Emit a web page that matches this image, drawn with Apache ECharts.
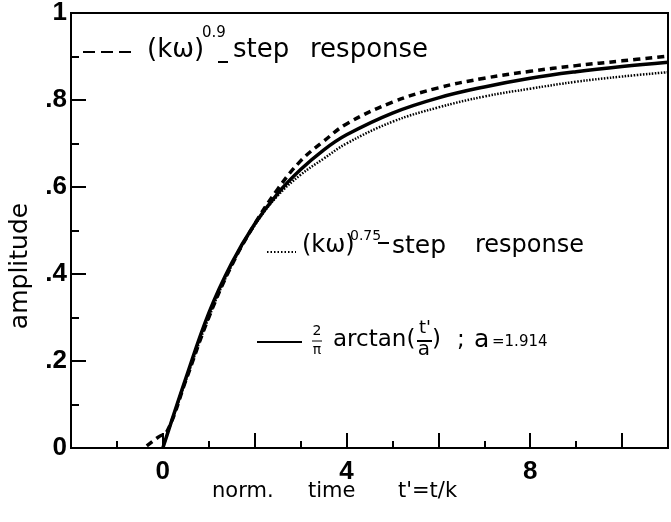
<!DOCTYPE html>
<html>
<head>
<meta charset="utf-8">
<script src="https://cdn.jsdelivr.net/npm/echarts@6/dist/echarts.min.js"></script>
<style>
  html, body { margin: 0; padding: 0; background: #fff; }
  #main { width: 671px; height: 522px; }
</style>
</head>
<body>
<div id="main"></div>
<script>
// values
var tSolid = [0, 0.5, 1, 1.5, 2, 2.5, 3, 3.5, 4, 5, 6, 7, 8, 9, 10, 11];
var ySolid = [0, 0.16, 0.31, 0.425, 0.515, 0.585, 0.64, 0.685, 0.72, 0.77, 0.805, 0.83, 0.85, 0.865, 0.877, 0.887];

var tDashed = [-0.35, -0.1, 0.1, 0.5, 1, 1.5, 2, 2.5, 3, 3.5, 4, 5, 6, 7, 8, 9, 10, 11];
var yDashed = [0.005, 0.025, 0.04, 0.155, 0.3, 0.42, 0.515, 0.595, 0.66, 0.705, 0.745, 0.795, 0.828, 0.85, 0.866, 0.879, 0.89, 0.901];

var tDotted = [0, 0.5, 1, 1.5, 2, 2.5, 3, 3.5, 4, 5, 6, 7, 8, 9, 10, 11];
var yDotted = [0, 0.155, 0.3, 0.42, 0.512, 0.58, 0.628, 0.665, 0.7, 0.75, 0.783, 0.808, 0.826, 0.842, 0.854, 0.864];

var xLabels = [0, 4, 8];

function pairs(xs, ys) {
  return xs.map(function (x, i) { return [x, ys[i]]; });
}

var myChart = echarts.init(document.getElementById("main"));
var txtFont = "DejaVu Sans";
var option = {
  backgroundColor: "#fff",
  animation: false,
  grid: {
    left: 71,
    top: 13,
    right: 2,
    bottom: 74,
    show: true,
    borderColor: "#000",
    borderWidth: 2,
  },
  xAxis: {
    type: "value",
    min: -2,
    max: 11,
    interval: 2,
    splitLine: { show: false },
    axisLine: { onZero: false, lineStyle: { color: "#000", width: 2 } },
    axisTick: { inside: true, length: 15, lineStyle: { color: "#000", width: 2 } },
    minorTick: { show: true, splitNumber: 2, length: 7, lineStyle: { color: "#000", width: 2 } },
    axisLabel: {
      margin: 11,
      color: "#000",
      fontFamily: "Liberation Sans",
      fontWeight: "bold",
      fontSize: 26,
      formatter: function (v) {
        return xLabels.indexOf(v) >= 0 ? String(v) : "";
      },
    },
  },
  yAxis: {
    type: "value",
    min: 0,
    max: 1,
    interval: 0.2,
    splitLine: { show: false },
    axisLine: { onZero: false, lineStyle: { color: "#000", width: 2 } },
    axisTick: { inside: true, length: 15, lineStyle: { color: "#000", width: 2 } },
    minorTick: { show: true, splitNumber: 2, length: 8, lineStyle: { color: "#000", width: 2 } },
    axisLabel: {
      margin: 4,
      color: "#000",
      fontFamily: "Liberation Sans",
      fontWeight: "bold",
      fontSize: 26,
      formatter: function (v) {
        if (v === 0) return "0";
        if (v === 1) return "1";
        return v.toFixed(1).replace("0.", ".");
      },
    },
  },
  series: [
    {
      name: "dashed",
      type: "line",
      data: pairs(tDashed, yDashed),
      showSymbol: false,
      smooth: 0.4,
      lineStyle: { color: "#000", width: 3.5, type: [7, 5] },
    },
    {
      name: "dotted",
      type: "line",
      data: pairs(tDotted, yDotted),
      showSymbol: false,
      smooth: 0.4,
      lineStyle: { color: "#000", width: 2.5, type: [1.5, 1.5] },
    },
    {
      name: "solid",
      type: "line",
      data: pairs(tSolid, ySolid),
      showSymbol: false,
      smooth: 0.4,
      lineStyle: { color: "#000", width: 3.5 },
    },
  ],
  graphic: [
    // axis names
    { type: "text", x: 20, y: 266, rotation: Math.PI / 2,
      style: { text: "amplitude", font: "25px DejaVu Sans", fill: "#000", align: "center", verticalAlign: "middle" } },
    { type: "text", x: 212, y: 492, style: { text: "norm.", font: "21px " + txtFont, fill: "#000", verticalAlign: "middle" } },
    { type: "text", x: 308, y: 492, style: { text: "time", font: "21px " + txtFont, fill: "#000", verticalAlign: "middle" } },
    { type: "text", x: 398, y: 492, style: { text: "t'=t/k", font: "21px " + txtFont, fill: "#000", verticalAlign: "middle" } },

    // legend 1 : dashed
    { type: "line", shape: { x1: 83, y1: 52, x2: 137, y2: 52 }, style: { stroke: "#000", lineWidth: 2, lineDash: [12, 6] } },
    { type: "text", x: 147, y: 50, style: { text: "(kω)", font: "26px " + txtFont, fill: "#000", verticalAlign: "middle" } },
    { type: "text", x: 202, y: 33, style: { text: "0.9", font: "15px " + txtFont, fill: "#000", verticalAlign: "middle" } },
    { type: "line", shape: { x1: 218, y1: 62, x2: 228, y2: 62 }, style: { stroke: "#000", lineWidth: 2 } },
    { type: "text", x: 233, y: 50, style: { text: "step", font: "26px " + txtFont, fill: "#000", verticalAlign: "middle" } },
    { type: "text", x: 310, y: 50, style: { text: "response", font: "26px " + txtFont, fill: "#000", verticalAlign: "middle" } },

    // legend 2 : dotted
    { type: "line", shape: { x1: 267, y1: 252, x2: 296, y2: 252 }, style: { stroke: "#000", lineWidth: 2, lineDash: [1.5, 2] } },
    { type: "text", x: 302, y: 246, style: { text: "(kω)", font: "24px " + txtFont, fill: "#000", verticalAlign: "middle" } },
    { type: "text", x: 350, y: 236, style: { text: "0.75", font: "14px " + txtFont, fill: "#000", verticalAlign: "middle" } },
    { type: "line", shape: { x1: 378, y1: 243, x2: 389, y2: 243 }, style: { stroke: "#000", lineWidth: 2 } },
    { type: "text", x: 392, y: 246, style: { text: "step", font: "25px " + txtFont, fill: "#000", verticalAlign: "middle" } },
    { type: "text", x: 475, y: 246, style: { text: "response", font: "24px " + txtFont, fill: "#000", verticalAlign: "middle" } },

    // legend 3 : solid
    { type: "line", shape: { x1: 257, y1: 342, x2: 302, y2: 342 }, style: { stroke: "#000", lineWidth: 2 } },
    { type: "text", x: 317, y: 331, style: { text: "2", font: "14px " + txtFont, fill: "#000", align: "center", verticalAlign: "middle" } },
    { type: "line", shape: { x1: 312, y1: 341, x2: 322, y2: 341 }, style: { stroke: "#000", lineWidth: 1 } },
    { type: "text", x: 317, y: 350, style: { text: "π", font: "14px " + txtFont, fill: "#000", align: "center", verticalAlign: "middle" } },
    { type: "text", x: 333, y: 340, style: { text: "arctan(", font: "23px " + txtFont, fill: "#000", verticalAlign: "middle" } },
    { type: "text", x: 425, y: 328, style: { text: "t'", font: "18px " + txtFont, fill: "#000", align: "center", verticalAlign: "middle" } },
    { type: "line", shape: { x1: 417, y1: 341, x2: 432, y2: 341 }, style: { stroke: "#000", lineWidth: 2 } },
    { type: "text", x: 424, y: 350, style: { text: "a", font: "20px " + txtFont, fill: "#000", align: "center", verticalAlign: "middle" } },
    { type: "text", x: 432, y: 340, style: { text: ")", font: "23px " + txtFont, fill: "#000", verticalAlign: "middle" } },
    { type: "text", x: 457, y: 340, style: { text: ";", font: "23px " + txtFont, fill: "#000", verticalAlign: "middle" } },
    { type: "text", x: 474, y: 340, style: { text: "a", font: "25px " + txtFont, fill: "#000", verticalAlign: "middle" } },
    { type: "text", x: 492, y: 342, style: { text: "=1.914", font: "15px " + txtFont, fill: "#000", verticalAlign: "middle" } },
  ],
};
myChart.setOption(option);
</script>
</body>
</html>
